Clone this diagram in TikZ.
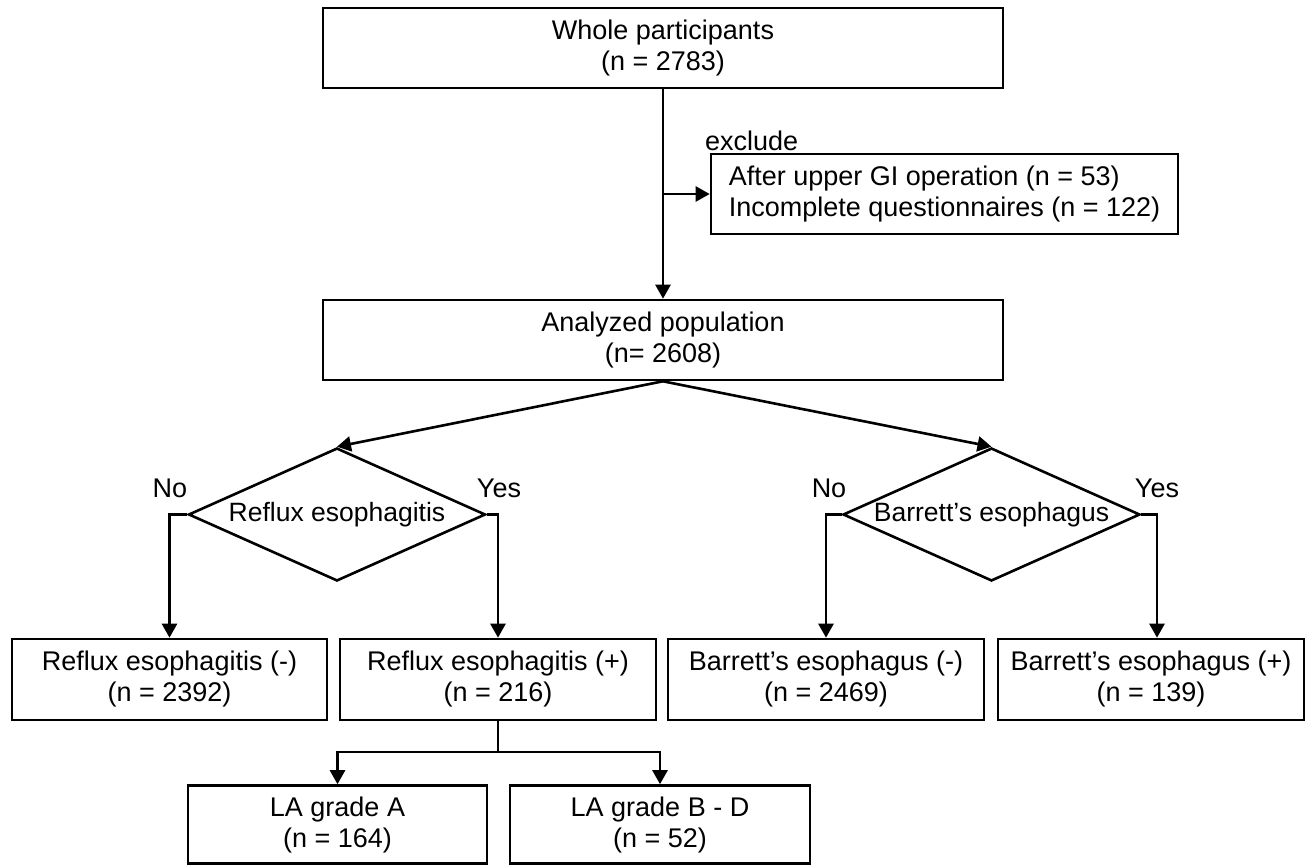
\documentclass[tikz,border=0pt]{standalone}
\usepackage{fontspec}
\setmainfont{Liberation Sans}
\usetikzlibrary{arrows.meta,shapes.geometric}
\begin{document}
\begin{tikzpicture}[x=1pt,y=-1pt,
  txt/.style={font=\fontsize{27}{31}\selectfont},
  box/.style={txt,draw,line width=2.6pt,inner sep=0pt,align=center},
  dec/.style={font=\fontsize{26.5}{31}\selectfont,draw,line width=2.6pt,diamond,aspect=2.23,inner sep=0pt,minimum width=297pt,minimum height=133pt},
  lbl/.style={txt,inner sep=0pt},
  conn/.style={line width=2.6pt},
  arr/.style={conn,-{Triangle[length=14pt,width=15pt]}}]
\useasboundingbox[fill=white] (0,0) rectangle (1306,865);
\node[box,minimum width=680pt,minimum height=80pt] (whole) at (663,48) {Whole participants\\(n = 2783)};
\node[box,align=left,minimum width=467pt,minimum height=80pt] (excl) at (944.5,194) {After upper GI operation (n = 53)\\Incomplete questionnaires (n = 122)};
\node[lbl,anchor=west] (exlbl) at (705,140.5) {exclude};
\node[box,minimum width=680pt,minimum height=80pt] (anal) at (663,340) {Analyzed population\\(n= 2608)};
\node[dec] (reflux) at (337,514.5) {\makebox[0pt]{Reflux esophagitis}};
\node[dec] (barrett) at (991.5,514.5) {\makebox[0pt]{Barrett’s esophagus}};
\node[box,minimum width=315pt,minimum height=81pt] (rneg) at (169.5,679.5) {Reflux esophagitis (-)\\(n = 2392)};
\node[box,minimum width=316pt,minimum height=81pt] (rpos) at (498,679.5) {Reflux esophagitis (+)\\(n = 216)};
\node[box,minimum width=316pt,minimum height=81pt] (bneg) at (826,679.5) {Barrett’s esophagus (-)\\(n = 2469)};
\node[box,minimum width=306pt,minimum height=81pt] (bpos) at (1151,679.5) {Barrett’s esophagus (+)\\(n = 139)};
\node[box,minimum width=299pt,minimum height=78pt] (laA) at (337.5,824.5) {LA grade A\\(n = 164)};
\node[box,minimum width=300pt,minimum height=78pt] (laB) at (660,824.5) {LA grade B - D\\(n = 52)};
\node[lbl] (no1) at (170,488) {No};
\node[lbl] (yes1) at (499,488) {Yes};
\node[lbl] (no2) at (829,488) {No};
\node[lbl] (yes2) at (1157,488) {Yes};
\coordinate (split) at (498,752);
\draw[arr] (whole.south) -- (anal.north);
\draw[arr] (whole.south |- excl.west) -- (excl.west);
\draw[arr] (anal.south) -- (reflux.north);
\draw[arr] (anal.south) -- (barrett.north);
\draw[arr] (reflux.west) -| (rneg.north);
\draw[arr] (reflux.east) -| (rpos.north);
\draw[arr] (barrett.west) -| (bneg.north);
\draw[arr] (barrett.east) -| ([xshift=6pt]bpos.north);
\draw[conn] (rpos.south) -- (split);
\draw[arr] (split) -| (laA.north);
\draw[arr] (split) -| (laB.north);
\end{tikzpicture}
\end{document}
